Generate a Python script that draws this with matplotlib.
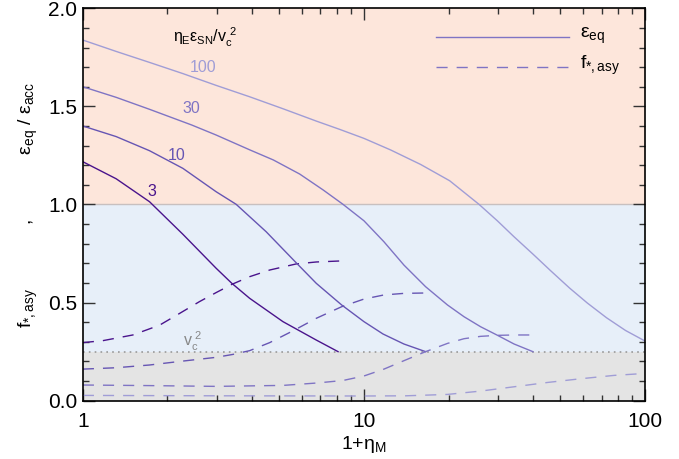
import numpy as np
import matplotlib
matplotlib.use('Agg')
import matplotlib.pyplot as plt
from matplotlib.ticker import MultipleLocator, LogLocator, NullFormatter, FixedFormatter, FixedLocator

plt.rcParams['font.family'] = ['Liberation Sans', 'DejaVu Sans']
plt.rcParams['mathtext.fontset'] = 'custom'
plt.rcParams['mathtext.rm'] = 'Liberation Sans'
plt.rcParams['mathtext.it'] = 'Liberation Sans'
plt.rcParams['mathtext.bf'] = 'Liberation Sans'

# energy parameter values (eta_E eps_SN / v_c^2)
labels = ['3', '10', '30', '100']
colors = ['#4a148c', '#6655b3', '#7f74c4', '#a09dd6']

# epsilon_eq / epsilon_acc curves
eq_x = [
    [1, 1.314, 1.727, 2.27, 2.98, 3.39, 3.92, 5.15, 6.77, 8.09],
    [1, 1.314, 1.727, 2.27, 2.98, 3.51, 4.49, 5.74, 6.77, 8.33, 10, 11.69, 13.87, 16.57],
    [1, 1.314, 1.727, 2.44, 2.98, 3.93, 4.76, 5.91, 7.16, 8.42, 10, 11.78, 13.88, 16.57,
     19.82, 22.7, 26.0, 29.7, 34.2, 39.9],
    [1, 1.314, 1.727, 2.27, 2.98, 3.92, 5.15, 6.77, 8.19, 10, 12.44, 15.91, 20.18, 25.65,
     29.87, 34.16, 40.0, 46.1, 53.9, 62.3, 72.9, 85.2, 100],
]
eq_y = [
    [1.218, 1.131, 1.014, 0.848, 0.675, 0.598, 0.522, 0.403, 0.309, 0.250],
    [1.400, 1.346, 1.274, 1.184, 1.065, 1.001, 0.861, 0.703, 0.598, 0.488, 0.403, 0.340, 0.289, 0.250],
    [1.600, 1.546, 1.485, 1.405, 1.354, 1.278, 1.227, 1.155, 1.074, 1.001, 0.917, 0.810, 0.691, 0.581,
     0.488, 0.428, 0.377, 0.335, 0.289, 0.250],
    [1.838, 1.780, 1.724, 1.667, 1.607, 1.549, 1.488, 1.425, 1.383, 1.337, 1.278, 1.204, 1.121, 1.001,
     0.916, 0.836, 0.746, 0.663, 0.574, 0.498, 0.423, 0.358, 0.304],
]

# f_*,asy curves
fa_x = [
    [1, 1.178, 1.506, 1.875, 2.21, 2.6, 2.98, 3.39, 3.92, 4.62, 5.74, 6.77, 8.19],
    [1, 1.314, 1.727, 2.27, 2.98, 3.42, 3.92, 4.62, 5.66, 6.77, 8.33, 10, 11.78, 13.88, 16.57],
    [1, 1.727, 2.98, 5.15, 6.77, 8.42, 10, 11.78, 13.88, 16.57, 19.82, 22.7, 26.0, 29.7, 34.2, 39.7],
    [1, 2.98, 10, 14.1, 19.8, 26.0, 34.2, 45.0, 59.1, 77.6, 100],
]
fa_y = [
    [0.296, 0.306, 0.335, 0.385, 0.445, 0.505, 0.551, 0.593, 0.632, 0.666, 0.697, 0.707, 0.712],
    [0.161, 0.168, 0.182, 0.202, 0.221, 0.236, 0.255, 0.296, 0.360, 0.420, 0.479, 0.518, 0.539, 0.547, 0.549],
    [0.080, 0.077, 0.073, 0.078, 0.090, 0.103, 0.126, 0.161, 0.204, 0.250, 0.292, 0.316, 0.328, 0.333, 0.335, 0.335],
    [0.027, 0.025, 0.024, 0.025, 0.032, 0.049, 0.071, 0.093, 0.112, 0.129, 0.139],
]

vc2 = 0.25
label_pos = [(1.76, 1.065), (2.16, 1.252), (2.43, 1.49), (2.67, 1.70)]

fig = plt.figure(figsize=(6.79, 4.59), dpi=100)
ax = fig.add_axes([0.122, 0.127, 0.828, 0.855])
ax.set_xscale('log')
ax.set_xlim(1, 100)
ax.set_ylim(0, 2)

# background regions
ax.axhspan(1.0, 2.0, color='#fde6db', zorder=0, lw=0)
ax.axhspan(vc2, 1.0, color='#e7eff9', zorder=0, lw=0)
ax.axhspan(0, vc2, color='#e4e4e4', zorder=0, lw=0)
ax.axhline(1.0, color='#c8c0c0', lw=1.0, zorder=1)
ax.axhline(vc2, color='#999999', lw=1.2, ls=(0, (1, 2.5)), zorder=1)

dash = (0, (8, 6.5))
for i in range(4):
    ax.plot(eq_x[i], eq_y[i], color=colors[i], lw=1.0, zorder=3)
    ax.plot(fa_x[i], fa_y[i], color=colors[i], lw=1.0, ls=dash, zorder=3)
    ax.text(label_pos[i][0], label_pos[i][1], labels[i], color=colors[i], fontsize=11.5,
            ha='center', va='center')

ax.text(2.71, 1.85, r'$η_Eε_{SN}/v_c^{\ 2}$', fontsize=11.5, ha='center', va='center')
ax.text(2.46, 0.30, r'$v_c^{\ 2}$', fontsize=11.5, color='#888888', ha='center', va='center')

# legend drawn by hand
ax.plot([18.0, 53.6], [1.852, 1.852], color='#7f74c4', lw=1.0)
ax.plot([18.0, 53.6], [1.702, 1.702], color='#7f74c4', lw=1.0, ls=dash)
ax.text(58.7, 1.86, r'$ε_{eq}$', fontsize=14, va='center')
ax.text(58.7, 1.71, r'$f_{*,asy}$', fontsize=14, va='center')

ax.set_xlabel(r'$1{+}η_M$', fontsize=14, labelpad=2)
ax.set_ylabel(r'$f_{*,asy}$            ,            $ε_{eq}$ / $ε_{acc}$', fontsize=14, labelpad=6)

ax.xaxis.set_major_locator(FixedLocator([1, 10, 100]))
ax.xaxis.set_major_formatter(FixedFormatter(['1', '10', '100']))
ax.xaxis.set_minor_locator(LogLocator(base=10, subs=np.arange(2, 10)))
ax.xaxis.set_minor_formatter(NullFormatter())
ax.yaxis.set_major_locator(MultipleLocator(0.5))
ax.yaxis.set_minor_locator(MultipleLocator(0.1))
ax.yaxis.set_major_formatter(plt.FuncFormatter(lambda v, p: '%.1f' % v))

ax.tick_params(which='both', direction='in', top=True, right=True, labelsize=15, width=1.0, color='#333333')
ax.tick_params(which='major', length=8.5)
ax.tick_params(which='minor', length=4.5)
ax.tick_params(axis='x', which='major', pad=8)
ax.tick_params(axis='y', which='major', pad=4)
for s in ax.spines.values():
    s.set_linewidth(1.2)
    s.set_zorder(5)

fig.savefig('out.png', dpi=100)
